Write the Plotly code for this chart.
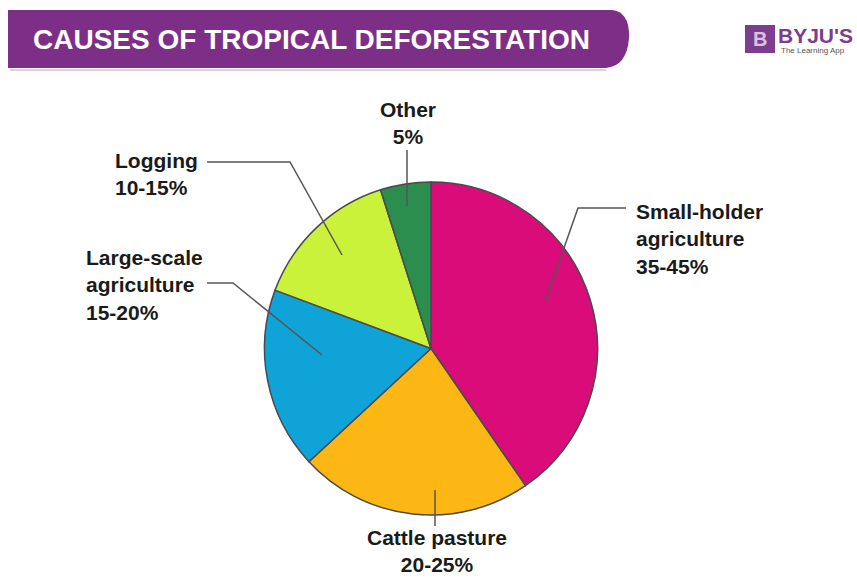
import plotly.graph_objects as go

categories = ["Small-holder agriculture", "Cattle pasture", "Large-scale agriculture", "Logging", "Other"]
values = [40.4, 22.7, 17.6, 14.4, 4.9]
range_labels = ["35-45%", "20-25%", "15-20%", "10-15%", "5%"]
colors = ["#da0c7a", "#fdb714", "#0fa3d8", "#cbf23a", "#2b8e4f"]

W, H = 857, 579
def px(x):
    return x / W
def py(y):
    return 1 - y / H

fig = go.Figure()
fig.add_trace(go.Pie(
    labels=categories, values=values, sort=False, direction="clockwise", rotation=0,
    marker=dict(colors=colors, line=dict(color="#4a4a4a", width=1.5)),
    textinfo="none", showlegend=False, hole=0,
    domain=dict(x=[px(263), px(599)], y=[py(515), py(182)]),
))

shapes = []
# Title banner
banner = (f"M {px(8)},{py(10)} L {px(612)},{py(10)} "
          f"Q {px(630)},{py(12)} {px(629)},{py(38)} "
          f"Q {px(627)},{py(66)} {px(606)},{py(68)} "
          f"L {px(8)},{py(68)} Z")
shapes.append(dict(type="path", path=banner, xref="paper", yref="paper",
                   fillcolor="#7d2f88", line=dict(width=0), layer="below"))
shapes.append(dict(type="line", xref="paper", yref="paper", x0=px(10), x1=px(606),
                   y0=py(70), y1=py(70), line=dict(color="#ddd0e0", width=2)))
# Logo box
shapes.append(dict(type="rect", xref="paper", yref="paper", x0=px(745), x1=px(775),
                   y0=py(53), y1=py(25), fillcolor="#7d3c8e", line=dict(width=0)))

def leader(points):
    d = "M " + " L ".join(f"{px(x)},{py(y)}" for x, y in points)
    return dict(type="path", path=d, xref="paper", yref="paper",
                line=dict(color="#555555", width=1.5))

shapes += [
    leader([(626, 208), (578, 208), (545, 302)]),
    leader([(407, 150), (407, 206)]),
    leader([(207, 162), (290, 162), (342, 255)]),
    leader([(207, 283), (233, 283), (322, 355)]),
    leader([(435, 490), (435, 526)]),
]

font = dict(family="Liberation Sans, Arial, sans-serif", size=21, color="#1a1a1a")
annotations = [
    dict(text="<b>CAUSES OF TROPICAL DEFORESTATION</b>", x=px(31), y=py(40),
         xanchor="left", yanchor="middle",
         font=dict(family="Liberation Sans, Arial, sans-serif", size=28, color="white")),
    dict(text="<b>B</b>", x=px(760), y=py(39), xanchor="center", yanchor="middle",
         font=dict(family="Liberation Sans, Arial", size=20, color="#d9c2e0")),
    dict(text="<b>BYJU'S</b>", x=px(776), y=py(35), xanchor="left", yanchor="middle",
         font=dict(family="Liberation Sans, Arial", size=21, color="#7d3c8e")),
    dict(text="The Learning App", x=px(779), y=py(51), xanchor="left", yanchor="middle",
         font=dict(family="Liberation Sans, Arial", size=8, color="#555555")),
]

def label(lines, x, y, xanchor, yanchor="middle"):
    annotations.append(dict(text="<b>" + "<br>".join(lines) + "</b>", x=px(x), y=py(y),
                            xanchor=xanchor, yanchor=yanchor, align=xanchor if xanchor != "center" else "center",
                            font=font))

label(["Small-holder", "agriculture", range_labels[0]], 634, 239, "left")
label(["Cattle pasture", range_labels[1]], 437, 578, "center", "bottom")
label(["Large-scale", "agriculture", range_labels[2]], 84, 285, "left")
label(["Logging", range_labels[3]], 113, 174, "left")
label(["Other", range_labels[4]], 408, 123, "center")

for a in annotations:
    a.update(xref="paper", yref="paper", showarrow=False)

fig.update_layout(
    width=W, height=H, margin=dict(l=0, r=0, t=0, b=0),
    paper_bgcolor="white", plot_bgcolor="white",
    shapes=shapes, annotations=annotations,
)
fig.write_html("out.html")
